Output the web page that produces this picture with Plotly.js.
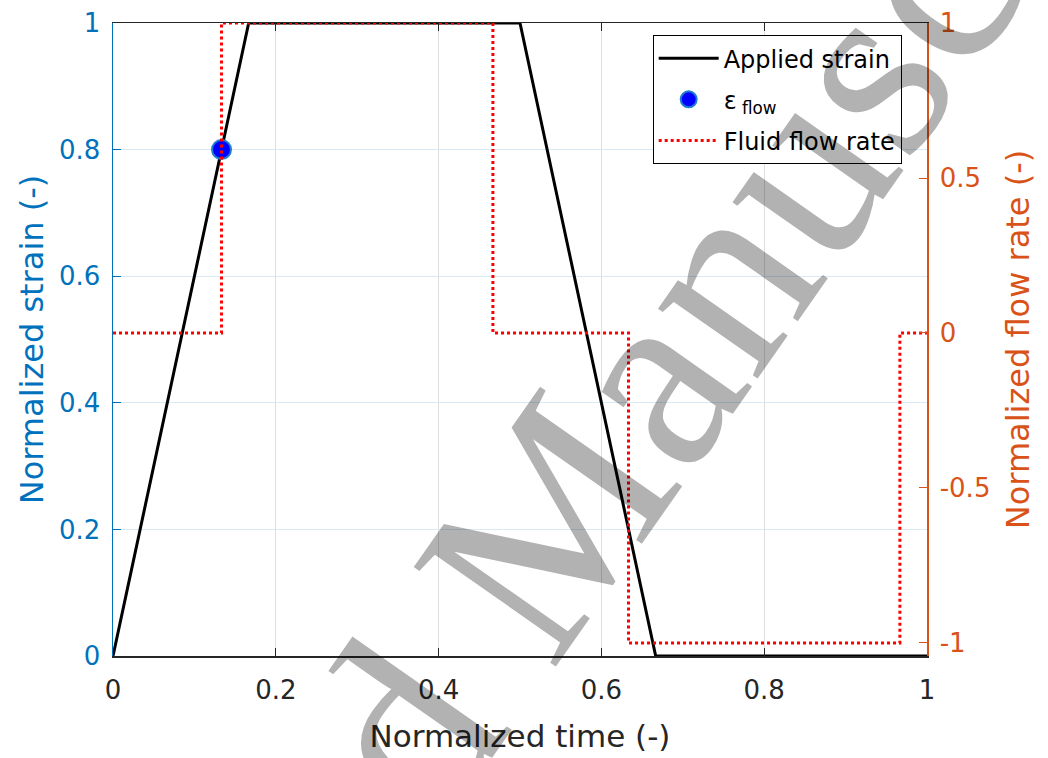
<!DOCTYPE html>
<html>
<head>
<meta charset="utf-8">
<script src="https://cdn.plot.ly/plotly-3.0.1.min.js"></script>
<style>
html,body{margin:0;padding:0;background:#fff;overflow:hidden;}
#chart{width:1048px;height:758px;}
</style>
</head>
<body>
<div id="chart"></div>
<script>
// Applied strain (normalized) vs normalized time
const strainTime = [0, 0.1667, 0.5, 0.6667, 1];
const strainValue = [0, 1, 1, 0, 0];

// Strain at onset of flow
const flowPointTime = [0.1333];
const flowPointStrain = [0.8];

// Fluid flow rate (normalized) - step profile
const flowTime = [0, 0.1333, 0.1333, 0.4667, 0.4667, 0.6333, 0.6333, 0.9667, 0.9667, 1];
const flowValue = [0, 0, 1, 1, 0, 0, -1, -1, 0, 0];

const leftTicks = [0, 0.2, 0.4, 0.6, 0.8, 1];
const leftTickText = ['0', '0.2', '0.4', '0.6', '0.8', '1'];
const rightTicks = [-1, -0.5, 0, 0.5, 1];
const rightTickText = ['-1', '-0.5', '0', '0.5', '1'];
const xTicks = [0, 0.2, 0.4, 0.6, 0.8, 1];
const xTickText = ['0', '0.2', '0.4', '0.6', '0.8', '1'];

const FONT = 'DejaVu Sans, Verdana, sans-serif';
const BLUE = '#0072BD';
const ORANGE = '#D95319';
const DARK = '#262626';

const traces = [
  {
    x: strainTime, y: strainValue, type: 'scatter', mode: 'lines',
    name: 'Applied strain', legendgroup: 'a',
    line: {color: '#000000', width: 3}, yaxis: 'y'
  },
  {
    x: flowPointTime, y: flowPointStrain, type: 'scatter', mode: 'markers',
    name: 'ε<sub> flow</sub>', legendgroup: 'b',
    marker: {color: '#0000FF', size: 19, line: {color: '#1E7FD0', width: 2}}, yaxis: 'y'
  },
  {
    x: flowTime, y: flowValue, type: 'scatter', mode: 'lines',
    name: 'Fluid flow rate', legendgroup: 'c',
    line: {color: '#FF0000', width: 3, dash: '3px,3px'}, yaxis: 'y2'
  }
];

const layout = {
  width: 1048, height: 758,
  margin: {l: 113, r: 121, t: 23, b: 102, pad: 0},
  paper_bgcolor: '#ffffff', plot_bgcolor: '#ffffff',
  font: {family: FONT, size: 26, color: DARK},
  showlegend: true,
  legend: {
    x: 0.663, y: 0.981, xanchor: 'left', yanchor: 'top',
    bgcolor: '#ffffff', bordercolor: '#000000', borderwidth: 1,
    font: {family: FONT, size: 24, color: '#000000'},
    itemwidth: 60, tracegroupgap: 7, traceorder: 'grouped'
  },
  xaxis: {
    range: [0, 1], tickmode: 'array', tickvals: xTicks, ticktext: xTickText,
    ticks: 'inside', ticklen: 8, tickcolor: DARK, tickwidth: 1,
    showline: true, linecolor: DARK, linewidth: 1.5, mirror: 'ticks',
    showgrid: true, gridcolor: '#dedede', gridwidth: 1, zeroline: false,
    ticklabelstandoff: 10,
    tickfont: {family: FONT, size: 26, color: DARK},
    title: {text: 'Normalized time (-)', font: {family: FONT, size: 31, color: DARK}, standoff: 21}
  },
  yaxis: {
    range: [0, 1], tickmode: 'array', tickvals: leftTicks, ticktext: leftTickText,
    ticks: 'inside', ticklen: 8, tickcolor: BLUE, tickwidth: 1,
    showline: true, linecolor: BLUE, linewidth: 1.5,
    showgrid: true, gridcolor: '#d9eaf5', gridwidth: 1, zeroline: false,
    ticklabelstandoff: 6,
    tickfont: {family: FONT, size: 26, color: BLUE},
    title: {text: 'Normalized strain (-)', font: {family: FONT, size: 32, color: BLUE}, standoff: 5}
  },
  yaxis2: {
    range: [-1.042, 1], overlaying: 'y', side: 'right',
    tickmode: 'array', tickvals: rightTicks, ticktext: rightTickText,
    ticks: 'inside', ticklen: 8, tickcolor: ORANGE, tickwidth: 1,
    showline: true, linecolor: ORANGE, linewidth: 1.5,
    showgrid: false, zeroline: false,
    ticklabelstandoff: 6,
    tickfont: {family: FONT, size: 26, color: ORANGE},
    title: {text: 'Normalized flow rate (-)', font: {family: FONT, size: 32, color: ORANGE}, standoff: 17}
  },
  annotations: [
    {
      text: 'Accepted Manuscript', xref: 'paper', yref: 'paper',
      x: 0.499, y: 0.145, xanchor: 'center', yanchor: 'middle',
      textangle: -55, showarrow: false,
      font: {family: 'Liberation Serif, Times New Roman, serif', size: 265, color: 'rgba(0,0,0,0.3)'}
    }
  ]
};

Plotly.newPlot('chart', traces, layout, {displayModeBar: false, staticPlot: true});
</script>
</body>
</html>
